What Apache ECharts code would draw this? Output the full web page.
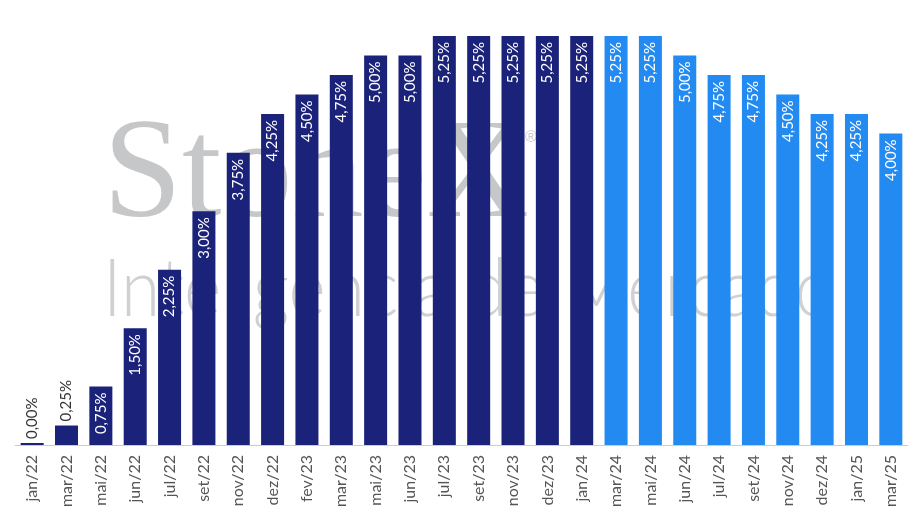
<!DOCTYPE html>
<html>
<head>
<meta charset="utf-8">
<script src="https://cdn.jsdelivr.net/npm/echarts@6/dist/echarts.min.js"></script>
<style>html,body{margin:0;padding:0;background:#fff}#c{width:923px;height:518px}</style>
</head>
<body>
<div id="c"></div>
<script>
const categories = ['jan/22','mar/22','mai/22','jun/22','jul/22','set/22','nov/22','dez/22','fev/23','mar/23','mai/23','jun/23','jul/23','set/23','nov/23','dez/23','jan/24','mar/24','mai/24','jun/24','jul/24','set/24','nov/24','dez/24','jan/25','mar/25'];
const rates = [0.00,0.25,0.75,1.50,2.25,3.00,3.75,4.25,4.50,4.75,5.00,5.00,5.25,5.25,5.25,5.25,5.25,5.25,5.25,5.00,4.75,4.75,4.50,4.25,4.25,4.00];
const lightStart = 17; // index of first light-blue bar (mar/24)
const darkColor = '#1b2279';
const lightColor = '#228af1';

const chart = echarts.init(document.getElementById('c'));
const data = rates.map((v, i) => {
  const outside = v < 0.5;
  return {
    value: v,
    itemStyle: { color: i >= lightStart ? lightColor : darkColor },
    label: outside ? {
      position: 'top', rotate: 90, align: 'left', verticalAlign: 'middle',
      color: '#333', distance: 4
    } : {
      position: 'insideTop', rotate: 90, align: 'right', verticalAlign: 'middle',
      color: '#fff', distance: 6
    }
  };
});
chart.setOption({
  animation: false,
  graphic: [
    { type: 'text', left: 103, top: 108, z: -10, silent: true,
      style: { text: 'StoneX', font: '142px "Liberation Serif", serif', fill: '#c6c7c9' } },
    { type: 'text', left: 525, top: 130, z: -10, silent: true,
      style: { text: '®', font: '16px "Liberation Sans", sans-serif', fill: '#c9cacc' } },
    { type: 'text', x: 103, y: 250, scaleX: 0.89, z: -10, silent: true,
      style: { text: 'Inteligência de Mercado', font: '300 80px Lato, sans-serif', fill: '#cfd0d2' } }
  ],
  grid: { left: 15, right: 15, top: 36, bottom: 73 },
  xAxis: {
    type: 'category',
    data: categories,
    axisLine: { lineStyle: { color: '#cccccc' } },
    axisTick: { lineStyle: { color: '#cccccc' }, length: 5 },
    axisLabel: { rotate: 90, color: '#555', fontSize: 16, fontFamily: 'Lato, sans-serif', interval: 0, margin: 10 }
  },
  yAxis: { type: 'value', min: 0, max: 5.25, show: false, splitLine: { show: false } },
  series: [{
    type: 'bar',
    data: data,
    barCategoryGap: '33%',
    barMinHeight: 2,
    label: {
      show: true,
      fontSize: 15,
      fontFamily: 'Lato, sans-serif',
      formatter: p => p.value.toFixed(2).replace('.', ',') + '%'
    }
  }]
});
</script>
</body>
</html>
